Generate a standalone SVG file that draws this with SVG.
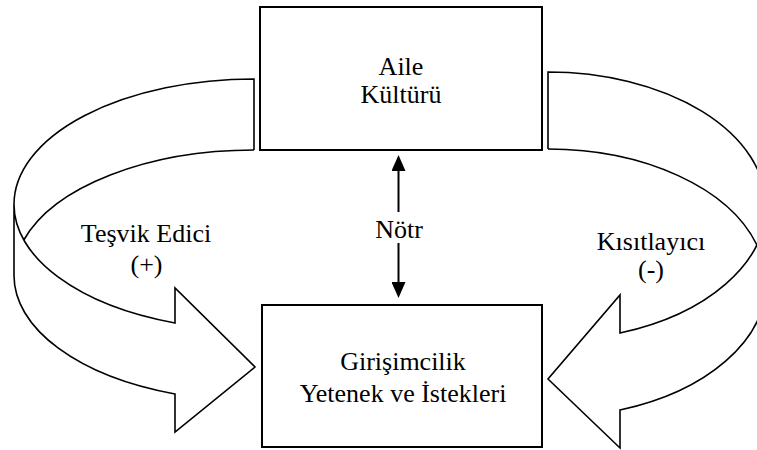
<svg xmlns="http://www.w3.org/2000/svg" width="757" height="450" viewBox="0 0 757 450">
  <style>
    .box { fill: #ffffff; stroke: #000000; stroke-width: 2; }
    .band { fill: #ffffff; stroke: #000000; stroke-width: 1.6; stroke-linejoin: miter; }
    .band-edge { fill: none; stroke: #000000; stroke-width: 1.6; }
    .link { stroke: #000000; stroke-width: 2; fill: none; }
    .label { font-family: "Liberation Serif", "Times New Roman", serif; font-size: 26px; fill: #000000; text-anchor: middle; }
  </style>
  <defs>
    <marker id="head" viewBox="0 0 16 14" refX="0" refY="7" markerWidth="16" markerHeight="14" markerUnits="userSpaceOnUse" orient="auto">
      <path d="M0,0 L16,7 L0,14 Z" fill="#000000"/>
    </marker>
  </defs>

  <rect width="757" height="450" fill="#ffffff"/>

  <!-- connectors -->
  <g id="connectors">
    <!-- encouraging influence: curved block arrow on the left -->
    <g id="arrow-tesvik">
      <path class="band" d="M254 150 L254 79 A240 125.5 0 0 0 14 204.5 L14 275.5 A240 125.5 0 0 0 175 394 L175 432 L255 367 L175 288 L175 323 A240 125.5 0 0 1 14 204.5"/>
      <path class="band-edge" d="M254 150 A240 125.5 0 0 0 23.8 240"/>
      <text class="label" x="146" y="242">Teşvik Edici</text>
      <text class="label" x="146.5" y="273">(+)</text>
    </g>
    <!-- restricting influence: curved block arrow on the right -->
    <g id="arrow-kisitlayici">
      <path class="band" d="M548 149 L548 72 A218 134.5 0 0 1 766 206.5 L766 283.5 A218 134.5 0 0 1 620 410 L620 448 L548 379 L620 295 L620 333 A218 134.5 0 0 0 766 206.5"/>
      <path class="band-edge" d="M548 149 A218 134.5 0 0 1 756.9 245"/>
      <text class="label" x="651" y="250">Kısıtlayıcı</text>
      <text class="label" x="651" y="278">(-)</text>
    </g>
    <!-- neutral influence: double-headed vertical arrow -->
    <g id="arrow-notr">
      <line class="link" x1="398.5" y1="212" x2="398.5" y2="171" marker-end="url(#head)"/>
      <line class="link" x1="398.5" y1="243" x2="398.5" y2="282" marker-end="url(#head)"/>
      <text class="label" x="399" y="238">Nötr</text>
    </g>
  </g>

  <!-- nodes -->
  <g id="node-aile-kulturu">
    <rect class="box" x="260" y="7" width="282" height="143"/>
    <text class="label" x="401" y="75">Aile</text>
    <text class="label" x="401" y="103">Kültürü</text>
  </g>
  <g id="node-girisimcilik">
    <rect class="box" x="262" y="305" width="280" height="142"/>
    <text class="label" x="403" y="370">Girişimcilik</text>
    <text class="label" x="403" y="402">Yetenek ve İstekleri</text>
  </g>
</svg>
